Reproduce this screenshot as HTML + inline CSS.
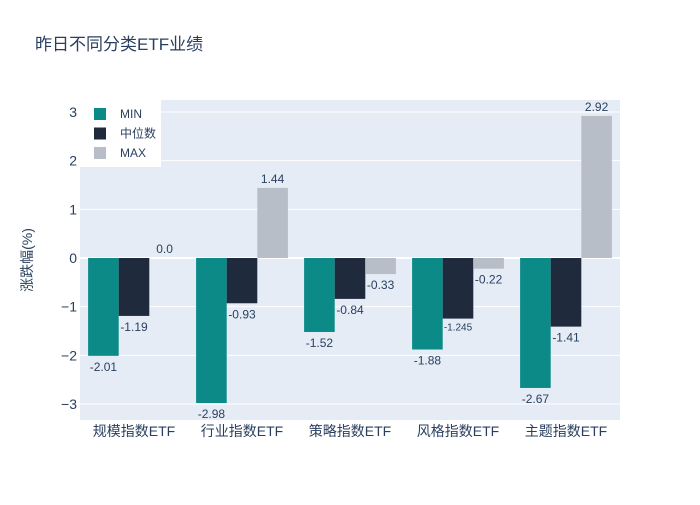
<!DOCTYPE html>
<html><head><meta charset="utf-8"><style>
body{margin:0;background:#fff;font-family:"Liberation Sans","Noto Sans CJK SC",sans-serif}
svg text{font-family:"Liberation Sans","Noto Sans CJK SC",sans-serif;fill:#2a3f5f}
</style></head><body>
<svg id="chart" width="700" height="500">
<rect x="0" y="0" width="700" height="500" fill="#fff"/>
<text x="35" y="50" font-size="17">昨日不同分类ETF业绩</text>
<rect x="80" y="100" width="540" height="320" fill="#e5ecf6"/>
<g id="grid"></g><g id="bars"></g><g id="labels"></g>
<text transform="translate(32,260) rotate(-90)" text-anchor="middle" font-size="14">涨跌幅(%)</text>
<g id="legend"></g>
</svg>
<script>
const categories=["规模指数ETF","行业指数ETF","策略指数ETF","风格指数ETF","主题指数ETF"];
const seriesNames=["MIN","中位数","MAX"];
const minVals=[-2.01,-2.98,-1.52,-1.88,-2.67];
const medVals=[-1.19,-0.93,-0.84,-1.245,-1.41];
const maxVals=[0.0,1.44,-0.33,-0.22,2.92];
const yTicks=[-3,-2,-1,0,1,2,3];
const colors=["#0b8a87","#1f2a3d","#b8bec7"];
const NS="http://www.w3.org/2000/svg";
const X0=80,W=540,Y0=258,U=48.67;
const y=v=>Y0-v*U;
const band=W/categories.length;
function mk(t,a,p){const e=document.createElementNS(NS,t);for(const k in a)e.setAttribute(k,a[k]);p.appendChild(e);return e;}
const grid=document.getElementById('grid');
yTicks.forEach(t=>{
  const l=mk('line',{x1:X0,x2:X0+W,y1:y(t),y2:y(t),stroke:'#fff','stroke-width':t===0?2:1},grid);
  
  
  const tx=mk('text',{x:X0-3,y:y(t)+5,'text-anchor':'end','font-size':14},grid);
  tx.textContent=t<0?'−'+Math.abs(t):String(t);
  
  
});
const bars=document.getElementById('bars'),labels=document.getElementById('labels');
const all=[minVals,medVals,maxVals];
const gw=band*0.85,bw=gw/3;
categories.forEach((c,i)=>{
  const cx=X0+band*(i+0.5);
  const ct=mk('text',{x:cx,y:436,'text-anchor':'middle','font-size':14},labels);
  ct.textContent=c;
  
  
  all.forEach((s,j)=>{
    const v=s[i],bx=cx-gw/2+j*bw;
    const r=mk('rect',{x:bx,y:Math.min(y(v),Y0),width:bw,height:Math.abs(v*U),fill:colors[j]},bars);
    
    
    const txt=v===0?'0.0':String(v);
    const small=txt.length>5;
    const ly=v>=0?y(v)-5:y(v)+(small?12:15);
    const t=mk('text',{x:bx+bw/2,y:ly,'text-anchor':'middle','font-size':small?10:12},labels);
    t.textContent=txt;
    
    
  });
});
const lg=document.getElementById('legend');
mk('rect',{x:80,y:100,width:81,height:67,fill:'#fff'},lg);
seriesNames.forEach((n,j)=>{
  const yy=114+j*19.5;
  const m=mk('rect',{x:94,y:yy-6,width:12,height:12,fill:colors[j]},lg);
  
  
  const t=mk('text',{x:120,y:yy+4,'font-size':12},lg);
  t.textContent=n;
  
  
});
</script>
</body></html>
